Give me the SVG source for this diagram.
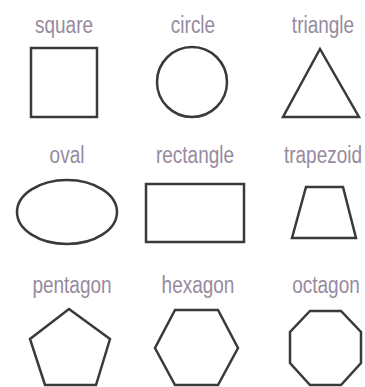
<svg xmlns="http://www.w3.org/2000/svg" width="365" height="387" viewBox="0 0 365 387">
<style>
.lbl{font-family:"Liberation Sans",Arial,sans-serif;font-size:19px;fill:#978a9e;text-anchor:middle}
.shp{fill:#fff;stroke:#3a3a3a;stroke-width:2.5;stroke-linejoin:miter}
</style>
<rect width="365" height="387" fill="#fff"/>
<g id="square"><text class="lbl" transform="translate(64,33) scale(1,1.3)">square</text><rect class="shp" x="31" y="48" width="66" height="69"/></g>
<g id="circle"><text class="lbl" transform="translate(193,33) scale(1,1.3)">circle</text><circle class="shp" cx="192" cy="82" r="35"/></g>
<g id="triangle"><text class="lbl" transform="translate(323,33) scale(1,1.3)">triangle</text><polygon class="shp" points="320,49 359,117 283,117"/></g>
<g id="oval"><text class="lbl" transform="translate(67,163) scale(1,1.3)">oval</text><ellipse class="shp" cx="67" cy="212" rx="50" ry="32"/></g>
<g id="rectangle"><text class="lbl" transform="translate(195,163) scale(1,1.3)">rectangle</text><rect class="shp" x="146" y="184" width="98" height="58"/></g>
<g id="trapezoid"><text class="lbl" transform="translate(323,163) scale(1,1.3)">trapezoid</text><polygon class="shp" points="306,187 343,187 356,238 292,238"/></g>
<g id="pentagon"><text class="lbl" transform="translate(72,293) scale(1,1.3)">pentagon</text><polygon class="shp" points="69,309 110,339 96,385 45,385 30,339"/></g>
<g id="hexagon"><text class="lbl" transform="translate(198,293) scale(1,1.3)">hexagon</text><polygon class="shp" points="175,310 218,310 238,348 218,385 175,385 155,348"/></g>
<g id="octagon"><text class="lbl" transform="translate(326,293) scale(1,1.3)">octagon</text><polygon class="shp" points="310,311 341,311 361,332 361,363 341,385 310,385 290,363 290,332"/></g>
<g id="connectors"/>
</svg>
